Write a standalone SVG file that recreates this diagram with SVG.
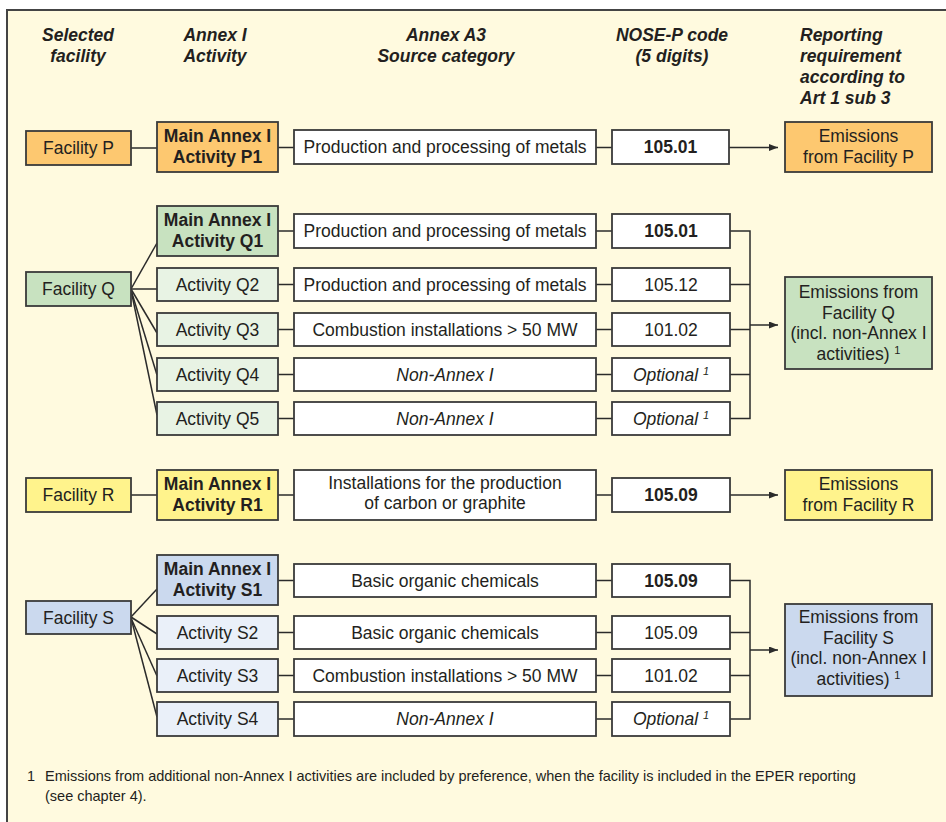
<svg xmlns="http://www.w3.org/2000/svg" width="946" height="822" viewBox="0 0 946 822">
<style>
.t{font-family:"Liberation Sans",Arial,sans-serif;font-size:17.5px;fill:#231f20;text-anchor:middle}
.b{font-weight:bold}
.i{font-style:italic}
.h{font-family:"Liberation Sans",Arial,sans-serif;font-size:17.5px;font-weight:bold;font-style:italic;fill:#231f20}
.hm{text-anchor:middle}
.fn{font-family:"Liberation Sans",Arial,sans-serif;font-size:14.5px;fill:#231f20}
.sup{font-size:11px}
rect{stroke:#3a3a3a;stroke-width:1.8}
.w{fill:#ffffff}
.or{fill:#fdc870}
.g1{fill:#c8e2c0}
.g2{fill:#e8f3e4}
.y{fill:#fff38c}
.b1{fill:#cbd9ee}
.b2{fill:#eaf0f9}
#connectors line,#connectors path{stroke:#2b2b2b;stroke-width:1.5;fill:none}
</style>
<defs>
<marker id="arr" markerUnits="userSpaceOnUse" markerWidth="9" markerHeight="7" refX="9" refY="3.5" orient="auto">
<path d="M0,0 L9,3.5 L0,7 z" fill="#2b2b2b"/>
</marker>
</defs>
<rect x="0" y="0" width="946" height="822" fill="#ffffff" style="stroke:none"/>
<rect x="7" y="10" width="960" height="840" fill="#fffadf" style="stroke:#444;stroke-width:2"/>

<g id="header">
<text class="h hm" x="78" y="41">Selected</text>
<text class="h hm" x="78" y="62">facility</text>
<text class="h hm" x="215" y="41">Annex I</text>
<text class="h hm" x="215" y="62">Activity</text>
<text class="h hm" x="446" y="41">Annex A3</text>
<text class="h hm" x="446" y="62">Source category</text>
<text class="h hm" x="672" y="41">NOSE-P code</text>
<text class="h hm" x="672" y="62">(5 digits)</text>
<text class="h" x="800" y="41">Reporting</text>
<text class="h" x="800" y="62">requirement</text>
<text class="h" x="800" y="83">according to</text>
<text class="h" x="800" y="104">Art 1 sub 3</text>
</g>

<g id="connectors">
<!-- P -->
<line x1="131" y1="148" x2="157" y2="148"/>
<line x1="278" y1="147.5" x2="294" y2="147.5"/>
<line x1="596" y1="147.5" x2="612" y2="147.5"/>
<line x1="729" y1="147.5" x2="778" y2="147.5" marker-end="url(#arr)"/>
<!-- Q -->
<line x1="131" y1="289" x2="157" y2="243"/>
<line x1="131" y1="289" x2="157" y2="289"/>
<line x1="131" y1="289" x2="157" y2="333"/>
<line x1="131" y1="290" x2="157" y2="375"/>
<line x1="131" y1="290" x2="157" y2="415"/>
<line x1="278" y1="231" x2="294" y2="231"/>
<line x1="278" y1="284.5" x2="294" y2="284.5"/>
<line x1="278" y1="329.5" x2="294" y2="329.5"/>
<line x1="278" y1="374.5" x2="294" y2="374.5"/>
<line x1="278" y1="418.5" x2="294" y2="418.5"/>
<line x1="596" y1="231" x2="612" y2="231"/>
<line x1="596" y1="284.5" x2="612" y2="284.5"/>
<line x1="596" y1="329.5" x2="612" y2="329.5"/>
<line x1="596" y1="374.5" x2="612" y2="374.5"/>
<line x1="596" y1="418.5" x2="612" y2="418.5"/>
<path d="M730,231 H750 V418.5 H730 M730,284.5 H750 M730,329.5 H750 M730,374.5 H750"/>
<line x1="750" y1="325" x2="778" y2="325" marker-end="url(#arr)"/>
<!-- R -->
<line x1="131" y1="495" x2="157" y2="495"/>
<line x1="278" y1="495" x2="294" y2="495"/>
<line x1="596" y1="495" x2="612" y2="495"/>
<line x1="730" y1="495" x2="778" y2="495" marker-end="url(#arr)"/>
<!-- S -->
<line x1="131" y1="617" x2="157" y2="589"/>
<line x1="131" y1="617" x2="157" y2="634"/>
<line x1="131" y1="618" x2="157" y2="676"/>
<line x1="131" y1="618" x2="157" y2="717"/>
<line x1="278" y1="580.5" x2="294" y2="580.5"/>
<line x1="278" y1="632.5" x2="294" y2="632.5"/>
<line x1="278" y1="675.5" x2="294" y2="675.5"/>
<line x1="278" y1="719" x2="294" y2="719"/>
<line x1="596" y1="580.5" x2="612" y2="580.5"/>
<line x1="596" y1="632.5" x2="612" y2="632.5"/>
<line x1="596" y1="675.5" x2="612" y2="675.5"/>
<line x1="596" y1="719" x2="612" y2="719"/>
<path d="M730,580.5 H750 V719 H730 M730,632.5 H750 M730,675.5 H750"/>
<line x1="750" y1="650" x2="778" y2="650" marker-end="url(#arr)"/>
</g>

<!-- Facility P -->
<g id="facilityP"><rect class="or" x="26" y="131" width="105" height="34"/><text class="t" x="78.5" y="154.2">Facility P</text></g>
<g id="activityP1"><rect class="or" x="157" y="122" width="121" height="50"/><text class="t b" x="217.5" y="142">Main Annex I</text><text class="t b" x="217.5" y="162.5">Activity P1</text></g>
<g id="sourceP1"><rect class="w" x="294" y="130" width="302" height="34"/><text class="t" x="445" y="153.2">Production and processing of metals</text></g>
<g id="codeP1"><rect class="w" x="612" y="130" width="117" height="34"/><text class="t b" x="670.5" y="153.2">105.01</text></g>
<g id="emissionsP"><rect class="or" x="785" y="122" width="147" height="50"/><text class="t" x="858.5" y="142">Emissions</text><text class="t" x="858.5" y="162.5">from Facility P</text></g>

<!-- Facility Q -->
<g id="facilityQ"><rect class="g1" x="26" y="272" width="105" height="34"/><text class="t" x="78.5" y="295.2">Facility Q</text></g>
<g id="activityQ1"><rect class="g1" x="157" y="206" width="121" height="50"/><text class="t b" x="217.5" y="226">Main Annex I</text><text class="t b" x="217.5" y="246.5">Activity Q1</text></g>
<g id="activityQ2"><rect class="g2" x="157" y="268" width="121" height="33"/><text class="t" x="217.5" y="290.7">Activity Q2</text></g>
<g id="activityQ3"><rect class="g2" x="157" y="313" width="121" height="33"/><text class="t" x="217.5" y="335.7">Activity Q3</text></g>
<g id="activityQ4"><rect class="g2" x="157" y="358" width="121" height="33"/><text class="t" x="217.5" y="380.7">Activity Q4</text></g>
<g id="activityQ5"><rect class="g2" x="157" y="402" width="121" height="33"/><text class="t" x="217.5" y="424.7">Activity Q5</text></g>
<g id="sourceQ1"><rect class="w" x="294" y="214" width="302" height="34"/><text class="t" x="445" y="237.2">Production and processing of metals</text></g>
<g id="sourceQ2"><rect class="w" x="294" y="268" width="302" height="33"/><text class="t" x="445" y="290.7">Production and processing of metals</text></g>
<g id="sourceQ3"><rect class="w" x="294" y="313" width="302" height="33"/><text class="t" x="445" y="335.7">Combustion installations &gt; 50 MW</text></g>
<g id="sourceQ4"><rect class="w" x="294" y="358" width="302" height="33"/><text class="t i" x="445" y="380.7">Non-Annex I</text></g>
<g id="sourceQ5"><rect class="w" x="294" y="402" width="302" height="33"/><text class="t i" x="445" y="424.7">Non-Annex I</text></g>
<g id="codeQ1"><rect class="w" x="612" y="214" width="118" height="34"/><text class="t b" x="671" y="237.2">105.01</text></g>
<g id="codeQ2"><rect class="w" x="612" y="268" width="118" height="33"/><text class="t" x="671" y="290.7">105.12</text></g>
<g id="codeQ3"><rect class="w" x="612" y="313" width="118" height="33"/><text class="t" x="671" y="335.7">101.02</text></g>
<g id="codeQ4"><rect class="w" x="612" y="358" width="118" height="33"/><text class="t i" x="671" y="380.7">Optional <tspan class="sup" dy="-6">1</tspan></text></g>
<g id="codeQ5"><rect class="w" x="612" y="402" width="118" height="33"/><text class="t i" x="671" y="424.7">Optional <tspan class="sup" dy="-6">1</tspan></text></g>
<g id="emissionsQ"><rect class="g1" x="785" y="277" width="147" height="92"/><text class="t" x="858.5" y="298">Emissions from</text><text class="t" x="858.5" y="318.5">Facility Q</text><text class="t" x="858.5" y="339">(incl. non-Annex I</text><text class="t" x="858.5" y="359.5">activities) <tspan class="sup" dy="-6">1</tspan></text></g>

<!-- Facility R -->
<g id="facilityR"><rect class="y" x="26" y="478" width="105" height="34"/><text class="t" x="78.5" y="501.2">Facility R</text></g>
<g id="activityR1"><rect class="y" x="157" y="470" width="121" height="50"/><text class="t b" x="217.5" y="490">Main Annex I</text><text class="t b" x="217.5" y="510.5">Activity R1</text></g>
<g id="sourceR1"><rect class="w" x="294" y="470" width="302" height="50"/><text class="t" x="445" y="488.5">Installations for the production</text><text class="t" x="445" y="508.5">of carbon or graphite</text></g>
<g id="codeR1"><rect class="w" x="612" y="478" width="118" height="34"/><text class="t b" x="671" y="501.2">105.09</text></g>
<g id="emissionsR"><rect class="y" x="785" y="470" width="147" height="50"/><text class="t" x="858.5" y="490">Emissions</text><text class="t" x="858.5" y="510.5">from Facility R</text></g>

<!-- Facility S -->
<g id="facilityS"><rect class="b1" x="26" y="601" width="105" height="33"/><text class="t" x="78.5" y="623.7">Facility S</text></g>
<g id="activityS1"><rect class="b1" x="157" y="555" width="121" height="50"/><text class="t b" x="217.5" y="575">Main Annex I</text><text class="t b" x="217.5" y="595.5">Activity S1</text></g>
<g id="activityS2"><rect class="b2" x="157" y="616" width="121" height="33"/><text class="t" x="217.5" y="638.7">Activity S2</text></g>
<g id="activityS3"><rect class="b2" x="157" y="659" width="121" height="33"/><text class="t" x="217.5" y="681.7">Activity S3</text></g>
<g id="activityS4"><rect class="b2" x="157" y="702" width="121" height="34"/><text class="t" x="217.5" y="725.2">Activity S4</text></g>
<g id="sourceS1"><rect class="w" x="294" y="564" width="302" height="33"/><text class="t" x="445" y="586.7">Basic organic chemicals</text></g>
<g id="sourceS2"><rect class="w" x="294" y="616" width="302" height="33"/><text class="t" x="445" y="638.7">Basic organic chemicals</text></g>
<g id="sourceS3"><rect class="w" x="294" y="659" width="302" height="33"/><text class="t" x="445" y="681.7">Combustion installations &gt; 50 MW</text></g>
<g id="sourceS4"><rect class="w" x="294" y="702" width="302" height="34"/><text class="t i" x="445" y="725.2">Non-Annex I</text></g>
<g id="codeS1"><rect class="w" x="612" y="564" width="118" height="33"/><text class="t b" x="671" y="586.7">105.09</text></g>
<g id="codeS2"><rect class="w" x="612" y="616" width="118" height="33"/><text class="t" x="671" y="638.7">105.09</text></g>
<g id="codeS3"><rect class="w" x="612" y="659" width="118" height="33"/><text class="t" x="671" y="681.7">101.02</text></g>
<g id="codeS4"><rect class="w" x="612" y="702" width="118" height="34"/><text class="t i" x="671" y="725.2">Optional <tspan class="sup" dy="-6">1</tspan></text></g>
<g id="emissionsS"><rect class="b1" x="785" y="604" width="147" height="92"/><text class="t" x="858.5" y="623">Emissions from</text><text class="t" x="858.5" y="643.5">Facility S</text><text class="t" x="858.5" y="664">(incl. non-Annex I</text><text class="t" x="858.5" y="684.5">activities) <tspan class="sup" dy="-6">1</tspan></text></g>

<g id="footnote">
<text class="fn" x="27" y="781">1</text>
<text class="fn" x="45" y="781">Emissions from additional non-Annex I activities are included by preference, when the facility is included in the EPER reporting</text>
<text class="fn" x="45" y="801">(see chapter 4).</text>
</g>
</svg>
